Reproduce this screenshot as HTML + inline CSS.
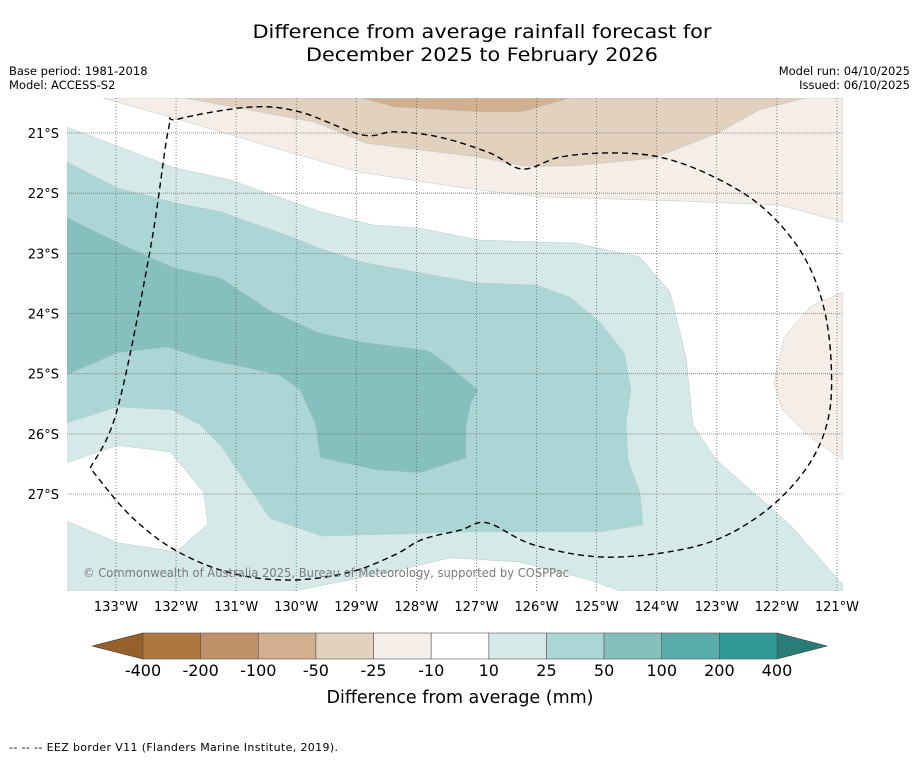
<!DOCTYPE html>
<html><head><meta charset="utf-8"><style>
html,body{margin:0;padding:0;background:#fff;}
svg text{font-family:"DejaVu Sans","Liberation Sans",sans-serif;}
</style></head><body>
<svg id="chart" width="919" height="758" viewBox="0 0 919 758" xmlns="http://www.w3.org/2000/svg">
<rect width="919" height="758" fill="#fff"/>
<text x="482" y="38" font-size="19" text-anchor="middle" fill="#000" textLength="459" lengthAdjust="spacingAndGlyphs">Difference from average rainfall forecast for</text>
<text x="482" y="61" font-size="19" text-anchor="middle" fill="#000" textLength="352" lengthAdjust="spacingAndGlyphs">December 2025 to February 2026</text>
<text x="9" y="75" font-size="11.5" fill="#000">Base period: 1981-2018</text>
<text x="9" y="89" font-size="11.5" fill="#000">Model: ACCESS-S2</text>
<text x="910" y="75" font-size="11.5" text-anchor="end" fill="#000">Model run: 04/10/2025</text>
<text x="910" y="89" font-size="11.5" text-anchor="end" fill="#000">Issued: 06/10/2025</text>
<defs><clipPath id="mapclip"><rect x="67" y="98" width="776" height="493"/></clipPath></defs>
<g id="map" clip-path="url(#mapclip)"></g>
<g id="axes"></g>
<g id="cbar"></g>
<text x="460" y="703" font-size="17.5" text-anchor="middle" fill="#000">Difference from average (mm)</text>
<text x="9" y="751" font-size="11" fill="#000" textLength="329" lengthAdjust="spacing">--  --  -- EEZ border V11 (Flanders Marine Institute, 2019).</text>
</svg>
<script>
// data: contour polygons as [lon °W, lat °S]
const lonTicks = [133,132,131,130,129,128,127,126,125,124,123,122,121];
const latTicks = [21,22,23,24,25,26,27];
const latLabels = ["21°S","22°S","23°S","24°S","25°S","26°S","27°S"];
const levels = ["-400","-200","-100","-50","-25","-10","10","25","50","100","200","400"];
const levelColors = ["#ae773f","#c09068","#d2b08f","#e3d1bf","#f5ede8","#ffffff","#d5e9e8","#acd6d5","#85bfbe","#5aacab","#329a96"];
const brownLight = [[133.22,20.42],[131.93,20.78],[129.94,21.37],[128.94,21.65],[127.77,21.83],[126.94,21.95],[125.94,22.06],[123.61,22.13],[121.95,22.20],[120.90,22.48],[120.90,20.42]];
const brownMid = [[131.85,20.42],[129.69,20.82],[128.84,21.17],[126.97,21.40],[126.21,21.55],[125.44,21.55],[124.05,21.42],[122.98,21.00],[122.30,20.62],[121.53,20.42]];
const brownDark = [[128.92,20.42],[128.36,20.57],[126.97,20.65],[126.24,20.65],[125.44,20.42]];
const brownEast = [[120.90,23.64],[121.45,23.89],[121.88,24.39],[122.05,25.15],[121.91,25.60],[121.45,26.05],[120.90,26.43]];
const tealLight = [[133.82,20.90],[132.02,21.58],[131.10,21.78],[129.60,22.31],[128.72,22.53],[127.97,22.58],[126.94,22.78],[125.36,22.83],[124.28,23.06],[123.78,23.64],[123.51,24.74],[123.40,25.85],[123.01,26.43],[121.78,27.51],[120.90,28.51],[120.90,28.61],[124.61,28.61],[125.11,28.43],[126.28,28.13],[127.44,28.06],[128.27,28.26],[130.02,28.61],[133.82,28.61]];
const whiteHole = [[133.82,26.48],[132.97,26.19],[132.10,26.30],[131.54,26.97],[131.47,27.50],[132.00,27.96],[132.97,27.81],[133.82,27.45]];
const tealMid = [[133.82,21.48],[132.98,21.91],[132.02,22.16],[131.25,22.31],[130.02,22.75],[129.64,22.91],[128.84,23.16],[127.02,23.49],[125.99,23.53],[125.44,23.73],[124.93,24.16],[124.54,24.66],[124.43,25.27],[124.51,25.82],[124.48,26.43],[124.28,26.97],[124.23,27.51],[124.94,27.63],[127.11,27.63],[129.57,27.70],[130.44,27.40],[131.24,26.22],[131.60,25.85],[132.07,25.60],[132.98,25.55],[133.82,25.82]];
const tealDark = [[133.82,22.40],[132.98,22.81],[132.45,23.06],[132.02,23.24],[131.25,23.41],[130.45,23.94],[129.64,24.31],[128.92,24.47],[127.82,24.61],[127.64,24.72],[126.97,25.27],[127.09,25.49],[127.17,25.85],[127.17,26.40],[127.94,26.65],[128.67,26.60],[129.60,26.40],[129.69,25.82],[129.94,25.27],[130.29,25.02],[131.60,24.74],[132.15,24.56],[132.98,24.66],[133.82,25.02]];
const eez = [[133.43,26.57],[132.98,25.60],[132.43,22.94],[132.13,20.95],[131.97,20.77],[130.77,20.57],[129.94,20.65],[128.91,21.03],[128.36,20.98],[127.61,21.07],[126.78,21.33],[126.23,21.60],[125.61,21.40],[124.78,21.33],[123.95,21.40],[123.11,21.70],[122.28,22.20],[121.62,22.94],[121.25,23.78],[121.10,24.77],[121.15,25.77],[121.53,26.60],[122.28,27.35],[123.28,27.85],[124.78,28.05],[126.03,27.85],[126.82,27.48],[127.27,27.60],[127.91,27.76],[128.36,28.01],[129.11,28.30],[130.10,28.43],[131.10,28.31],[132.02,27.93],[132.77,27.35],[133.43,26.57]];

const NS='http://www.w3.org/2000/svg';
function xs(lonW){return 116+(133-lonW)*60.08;}
function ys(latS){return 133+(latS-21)*60.17;}
function pts(a){return a.map(p=>xs(p[0]).toFixed(1)+','+ys(p[1]).toFixed(1)).join(' ');}
function smooth(a){
  const P=a.map(p=>[xs(p[0]),ys(p[1])]);
  let d='M'+P[0][0].toFixed(1)+','+P[0][1].toFixed(1);
  for(let i=0;i<P.length-1;i++){
    const p0=P[Math.max(0,i-1)],p1=P[i],p2=P[i+1],p3=P[Math.min(P.length-1,i+2)];
    const c1=[p1[0]+(p2[0]-p0[0])/6,p1[1]+(p2[1]-p0[1])/6];
    const c2=[p2[0]-(p3[0]-p1[0])/6,p2[1]-(p3[1]-p1[1])/6];
    d+=' C'+c1.map(v=>v.toFixed(1)).join(',')+' '+c2.map(v=>v.toFixed(1)).join(',')+' '+p2[0].toFixed(1)+','+p2[1].toFixed(1);
  }
  return d;
}
function mk(tag,attrs,parent){const e=document.createElementNS(NS,tag);for(const k in attrs)e.setAttribute(k,attrs[k]);parent.appendChild(e);return e;}
const map=document.getElementById('map');
const layers=[[brownLight,levelColors[4],'contour-minus10'],[brownMid,levelColors[3],'contour-minus25'],[brownDark,levelColors[2],'contour-minus50'],[brownEast,levelColors[4],'contour-minus10-east'],[tealLight,levelColors[6],'contour-plus10'],[whiteHole,'#ffffff','contour-neutral-hole'],[tealMid,levelColors[7],'contour-plus25'],[tealDark,levelColors[8],'contour-plus50']];
layers.forEach(l=>{
  const p=mk('polygon',{points:pts(l[0]),fill:l[1],stroke:'#b9c9c9','stroke-width':0.5},map);
  
  
});
const ax=document.getElementById('axes');
lonTicks.forEach(t=>{
  const x=xs(t);
  const ln=mk('line',{x1:x,x2:x,y1:98,y2:591,stroke:'#666','stroke-width':0.8,'stroke-dasharray':'1,2'},ax);
  
  
  const tx=mk('text',{x:x,y:611,'font-size':13,'text-anchor':'middle',fill:'#000'},ax);
  tx.textContent=t+'°W';
  
  
});
latTicks.forEach((t,i)=>{
  const y=ys(t);
  const ln=mk('line',{x1:67,x2:843,y1:y,y2:y,stroke:'#777','stroke-width':0.8,'stroke-dasharray':'1,1'},ax);
  
  
  const tx=mk('text',{x:59,y:y+5,'font-size':13,'text-anchor':'end',fill:'#000'},ax);
  tx.textContent=latLabels[i];
  
  
});
const e=mk('path',{d:smooth(eez),fill:'none',stroke:'#000','stroke-width':1.4,'stroke-dasharray':'6,4'},ax);


const cp=mk('text',{x:83,y:577,'font-size':12,fill:'#7a7a7a',textLength:486,lengthAdjust:'spacingAndGlyphs'},ax);
cp.textContent='© Commonwealth of Australia 2025, Bureau of Meteorology, supported by COSPPac';


// colorbar
const cb=document.getElementById('cbar');
const x0=143,x1=777,y0=633,y1=659,n=levelColors.length,w=(x1-x0)/n;
const lt=mk('polygon',{points:`92,646 ${x0},${y0} ${x0},${y1}`,fill:'#95602a',stroke:'#333','stroke-width':0.6},cb);


const rt=mk('polygon',{points:`827,646 ${x1},${y0} ${x1},${y1}`,fill:'#2a7c78',stroke:'#333','stroke-width':0.6},cb);


levelColors.forEach((c,i)=>{
  const r=mk('rect',{x:x0+i*w,y:y0,width:w,height:y1-y0,fill:c,stroke:'#555','stroke-width':0.6},cb);
  
  
});
levels.forEach((l,i)=>{
  const tx=mk('text',{x:x0+i*w,y:676,'font-size':16,'text-anchor':'middle',fill:'#000'},cb);
  tx.textContent=l;
  
  
});
</script>
</body></html>
